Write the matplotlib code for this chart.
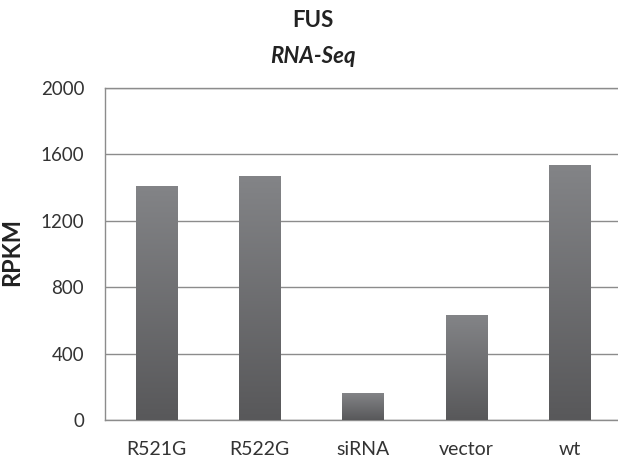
import matplotlib.pyplot as plt
import numpy as np
from matplotlib.colors import LinearSegmentedColormap

plt.rcParams['font.family'] = ['Lato', 'DejaVu Sans']

samples = ["R521G", "R522G", "siRNA", "vector", "wt"]
rpkm = [1410, 1470, 162, 630, 1535]
yticks = [0, 400, 800, 1200, 1600, 2000]

fig = plt.figure(figsize=(6.18, 4.63), dpi=100)
ax = fig.add_axes([0.170, 0.093, 0.835, 0.717])

x = np.arange(len(samples))
bars = ax.bar(x, rpkm, width=0.4, color="none", edgecolor="none", zorder=3)

# vertical gradient fill, dark at the bottom, lighter at the top
grad = LinearSegmentedColormap.from_list("g", ["#58585a", "#838487"])
for b in bars:
    x0, y0 = b.get_x(), b.get_y()
    w, h = b.get_width(), b.get_height()
    im = ax.imshow(np.linspace(0, 1, 256).reshape(-1, 1), cmap=grad,
                   origin="lower", extent=[x0, x0 + w, y0, y0 + h],
                   aspect="auto", zorder=3)
    im.set_clip_path(b)

ax.set_xlim(-0.5, len(samples) - 0.5)
ax.set_ylim(0, 2000)
ax.set_yticks(yticks)
ax.set_xticks(x)
ax.set_xticklabels(samples)
ax.tick_params(axis="x", length=0, labelsize=14, colors="#333333", pad=15)
ax.tick_params(axis="y", length=0, labelsize=13.5, colors="#333333", pad=15)
ax.grid(axis="y", color="#8c8c8c", linewidth=1.0, zorder=0)
for s in ax.spines.values():
    s.set_color("#8c8c8c")
    s.set_linewidth(1.0)

ax.set_ylabel("RPKM", fontsize=17, fontweight="bold", color="#222222")
ax.yaxis.set_label_coords(-0.159, 0.506)
fig.text(0.506, 0.942, "FUS", ha="center", va="baseline", fontsize=16,
         fontweight="bold", color="#222222")
fig.text(0.506, 0.864, "RNA-Seq", ha="center", va="baseline", fontsize=16,
         fontweight="bold", style="italic", color="#222222")

fig.savefig("out.png", dpi=100)
